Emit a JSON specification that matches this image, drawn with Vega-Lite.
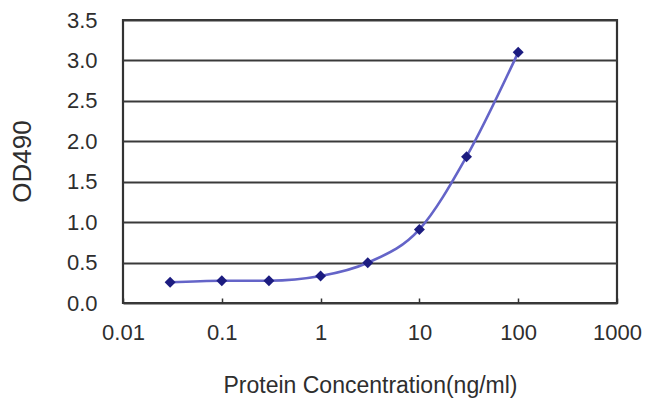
{
  "$schema": "https://vega.github.io/schema/vega-lite/v6.json",
  "autosize": "none",
  "width": 494,
  "height": 283,
  "padding": {"left": 123, "top": 20, "right": 33, "bottom": 109},
  "background": "white",
  "config": {
    "view": {"stroke": "#333333", "strokeWidth": 2.2},
    "font": "Liberation Sans",
    "axis": {
      "labelFont": "Liberation Sans",
      "titleFont": "Liberation Sans",
      "labelColor": "#2e2e2e",
      "titleColor": "#2e2e2e",
      "labelFontSize": 22,
      "titleFontSize": 23,
      "titleFontWeight": "normal",
      "domain": false
    }
  },
  "data": {
    "values": [
      {"conc": 0.03, "od": 0.256},
      {"conc": 0.1, "od": 0.275},
      {"conc": 0.3, "od": 0.276},
      {"conc": 1, "od": 0.334},
      {"conc": 3, "od": 0.498},
      {"conc": 10, "od": 0.91},
      {"conc": 30, "od": 1.81},
      {"conc": 100, "od": 3.1}
    ]
  },
  "encoding": {
    "x": {
      "field": "conc",
      "type": "quantitative",
      "scale": {"type": "log", "domain": [0.01, 1000], "nice": false},
      "axis": {
        "title": "Protein Concentration(ng/ml)",
        "values": [0.01, 0.1, 1, 10, 100, 1000],
        "format": "~g",
        "grid": false,
        "ticks": true,
        "tickSize": -5,
        "tickWidth": 1.5,
        "tickColor": "#333333",
        "labelPadding": 24,
        "labelFlush": false,
        "labelOverlap": false,
        "labelBound": false,
        "titleY": 82,
        "titleBaseline": "middle"
      }
    },
    "y": {
      "field": "od",
      "type": "quantitative",
      "scale": {"domain": [0, 3.5], "nice": false, "zero": true},
      "axis": {
        "title": "OD490",
        "titleFontSize": 26,
        "values": [0, 0.5, 1, 1.5, 2, 2.5, 3, 3.5],
        "format": ".1f",
        "grid": true,
        "gridColor": "#3a3a3a",
        "gridWidth": 2,
        "gridOpacity": 1,
        "ticks": false,
        "labelPadding": 26,
        "labelOverlap": false,
        "labelFlush": false,
        "labelBound": false,
        "titleAngle": -90,
        "titleX": -101,
        "titleY": 141,
        "titleAlign": "center",
        "titleBaseline": "middle"
      }
    }
  },
  "layer": [
    {
      "mark": {"type": "line", "interpolate": "monotone", "color": "#6464c8", "strokeWidth": 2.6}
    },
    {
      "mark": {"type": "point", "shape": "diamond", "filled": true, "color": "#1c1c80", "size": 120, "opacity": 1}
    }
  ]
}
